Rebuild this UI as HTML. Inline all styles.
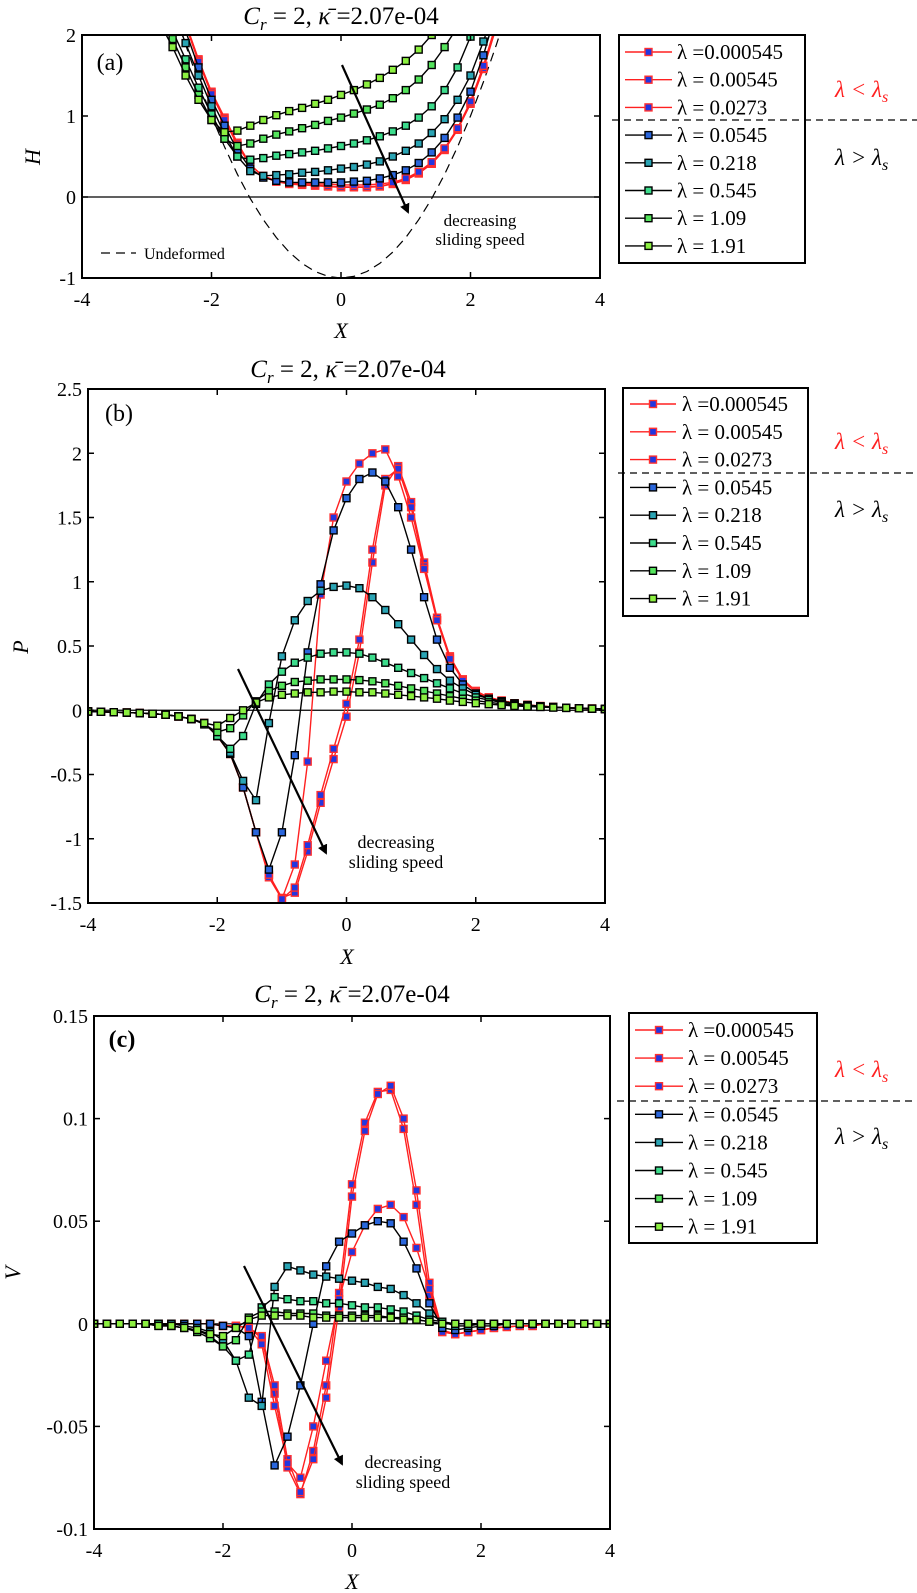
<!DOCTYPE html>
<html><head><meta charset="utf-8">
<style>
html,body{margin:0;padding:0;background:#fff;}
svg{display:block;font-family:"Liberation Serif",serif;}
</style></head>
<body>
<svg id="fig" width="917" height="1593" viewBox="0 0 917 1593" xmlns="http://www.w3.org/2000/svg"></svg>
<script>
// ---------- data ----------
const lambdaLabels = ["λ =0.000545","λ = 0.00545","λ = 0.0273","λ = 0.0545","λ = 0.218","λ = 0.545","λ = 1.09","λ = 1.91"];
const xTicks = [-4,-2,0,2,4];
const xTickLabels = ["-4","-2","0","2","4"];
const aYTicks = [-1,0,1,2];
const aYTickLabels = ["-1","0","1","2"];
const bYTicks = [-1.5,-1,-0.5,0,0.5,1,1.5,2,2.5];
const bYTickLabels = ["-1.5","-1","-0.5","0","0.5","1","1.5","2","2.5"];
const cYTicks = [-0.1,-0.05,0,0.05,0.1,0.15];
const cYTickLabels = ["-0.1","-0.05","0","0.05","0.1","0.15"];

const aX = [-3.0,-2.8,-2.6,-2.4,-2.2,-2.0,-1.8,-1.6,-1.4,-1.2,-1.0,-0.8,-0.6,-0.4,-0.2,0,0.2,0.4,0.6,0.8,1.0,1.2,1.4,1.6,1.8,2.0,2.2,2.4,2.6,2.8,3.0];
const aUndeformed = [3.5,2.92,2.38,1.88,1.42,1.0,0.62,0.28,-0.02,-0.28,-0.5,-0.68,-0.82,-0.92,-0.98,-1.0,-0.98,-0.92,-0.82,-0.68,-0.5,-0.28,-0.02,0.28,0.62,1.0,1.42,1.88,2.38,2.92,3.5];
const aH0 = [4,3.5,2.9,2.15,1.7,1.3,0.98,0.67,0.4,0.25,0.19,0.16,0.15,0.14,0.13,0.12,0.12,0.12,0.13,0.16,0.21,0.29,0.41,0.58,0.83,1.15,1.58,2.1,2.7,3.3,4];
const aH1 = [4,3.5,2.9,2.14,1.69,1.29,0.97,0.66,0.4,0.25,0.19,0.165,0.155,0.145,0.135,0.125,0.125,0.125,0.135,0.165,0.215,0.295,0.415,0.59,0.84,1.16,1.59,2.11,2.7,3.3,4];
const aH2 = [4,3.5,2.9,2.12,1.67,1.27,0.95,0.64,0.39,0.26,0.2,0.18,0.17,0.16,0.16,0.15,0.15,0.15,0.16,0.18,0.23,0.31,0.43,0.6,0.85,1.18,1.62,2.15,2.75,3.3,4];
const aH3 = [4,3.4,2.8,2.05,1.6,1.2,0.88,0.58,0.35,0.24,0.2,0.18,0.18,0.18,0.18,0.18,0.19,0.2,0.23,0.27,0.33,0.42,0.55,0.73,0.98,1.3,1.75,2.3,2.9,3.5,4];
const aH4 = [3.6,3.0,2.3,1.9,1.5,1.12,0.78,0.5,0.32,0.26,0.27,0.28,0.3,0.31,0.33,0.35,0.37,0.4,0.44,0.5,0.57,0.66,0.79,0.96,1.2,1.5,1.92,2.4,3.0,3.6,4];
const aH5 = [3.2,2.6,2.05,1.7,1.35,1.02,0.72,0.5,0.46,0.48,0.51,0.53,0.55,0.57,0.6,0.63,0.66,0.7,0.75,0.81,0.88,0.98,1.12,1.32,1.6,1.98,2.4,2.9,3.4,4,4.5];
const aH6 = [2.7,2.3,1.95,1.6,1.26,0.95,0.72,0.63,0.66,0.72,0.77,0.81,0.85,0.89,0.94,0.98,1.03,1.08,1.14,1.22,1.32,1.45,1.63,1.85,2.1,2.4,2.8,3.2,3.6,4,4.5];
const aH7 = [2.5,2.15,1.85,1.5,1.2,0.95,0.8,0.82,0.88,0.95,1.01,1.06,1.1,1.15,1.2,1.26,1.32,1.39,1.47,1.57,1.68,1.82,2.0,2.2,2.45,2.7,3.0,3.3,3.6,4,4.5];

const bcX = [-4,-3.8,-3.6,-3.4,-3.2,-3.0,-2.8,-2.6,-2.4,-2.2,-2.0,-1.8,-1.6,-1.4,-1.2,-1.0,-0.8,-0.6,-0.4,-0.2,0,0.2,0.4,0.6,0.8,1.0,1.2,1.4,1.6,1.8,2.0,2.2,2.4,2.6,2.8,3.0,3.2,3.4,3.6,3.8,4.0];

const bP0 = [-0.01,-0.012,-0.015,-0.018,-0.022,-0.027,-0.035,-0.048,-0.068,-0.1,-0.2,-0.34,-0.6,-0.95,-1.28,-1.46,-1.42,-1.1,-0.72,-0.38,-0.05,0.45,1.15,1.75,1.9,1.62,1.15,0.72,0.42,0.24,0.15,0.1,0.075,0.055,0.042,0.032,0.025,0.02,0.016,0.013,0.01];
const bP1 = [-0.01,-0.012,-0.015,-0.018,-0.022,-0.027,-0.035,-0.048,-0.068,-0.1,-0.2,-0.34,-0.6,-0.95,-1.3,-1.47,-1.38,-1.05,-0.66,-0.3,0.05,0.55,1.25,1.8,1.88,1.58,1.12,0.7,0.41,0.24,0.15,0.1,0.075,0.055,0.042,0.032,0.025,0.02,0.016,0.013,0.01];
const bP2 = [-0.01,-0.012,-0.015,-0.018,-0.022,-0.027,-0.035,-0.048,-0.068,-0.1,-0.2,-0.34,-0.6,-0.95,-1.28,-1.47,-1.2,-0.4,0.9,1.5,1.78,1.92,2.0,2.03,1.82,1.5,1.1,0.7,0.4,0.23,0.14,0.1,0.075,0.055,0.042,0.032,0.025,0.02,0.016,0.013,0.01];
const bP3 = [-0.01,-0.012,-0.015,-0.018,-0.022,-0.027,-0.035,-0.048,-0.068,-0.1,-0.2,-0.34,-0.6,-0.95,-1.24,-0.95,-0.35,0.45,0.98,1.4,1.65,1.8,1.85,1.78,1.58,1.25,0.88,0.55,0.33,0.2,0.13,0.09,0.07,0.053,0.04,0.031,0.025,0.02,0.016,0.013,0.01];
const bP4 = [-0.01,-0.012,-0.015,-0.018,-0.022,-0.027,-0.035,-0.048,-0.068,-0.1,-0.2,-0.33,-0.55,-0.7,-0.1,0.42,0.7,0.85,0.93,0.96,0.97,0.95,0.88,0.78,0.67,0.55,0.43,0.32,0.23,0.17,0.12,0.09,0.07,0.053,0.04,0.031,0.025,0.02,0.016,0.013,0.01];
const bP5 = [-0.01,-0.012,-0.015,-0.018,-0.022,-0.027,-0.035,-0.048,-0.068,-0.1,-0.2,-0.3,-0.2,0.05,0.2,0.3,0.37,0.41,0.44,0.45,0.45,0.44,0.41,0.37,0.33,0.29,0.25,0.21,0.17,0.13,0.1,0.08,0.062,0.048,0.038,0.03,0.024,0.019,0.015,0.012,0.01];
const bP6 = [-0.01,-0.012,-0.015,-0.018,-0.022,-0.027,-0.035,-0.048,-0.068,-0.11,-0.17,-0.14,-0.04,0.07,0.15,0.19,0.22,0.23,0.24,0.24,0.24,0.235,0.225,0.21,0.19,0.17,0.15,0.13,0.11,0.09,0.075,0.062,0.05,0.04,0.033,0.027,0.022,0.018,0.015,0.012,0.01];
const bP7 = [-0.01,-0.012,-0.015,-0.018,-0.022,-0.027,-0.035,-0.048,-0.068,-0.1,-0.12,-0.06,0.0,0.06,0.1,0.12,0.13,0.14,0.14,0.145,0.145,0.14,0.14,0.13,0.12,0.11,0.1,0.09,0.075,0.065,0.055,0.047,0.04,0.034,0.029,0.025,0.021,0.018,0.015,0.012,0.01];

const cV0 = [0,0,0,0,0,0,0,0,0,0,-0.001,-0.001,-0.002,-0.007,-0.034,-0.07,-0.083,-0.062,-0.03,0.015,0.068,0.098,0.113,0.114,0.095,0.058,0.014,-0.004,-0.005,-0.004,-0.003,-0.002,-0.0015,-0.001,-0.001,0,0,0,0,0,0];
const cV1 = [0,0,0,0,0,0,0,0,0,0,-0.001,-0.001,-0.002,-0.006,-0.03,-0.066,-0.082,-0.066,-0.036,0.008,0.062,0.094,0.112,0.116,0.1,0.065,0.02,-0.003,-0.005,-0.004,-0.003,-0.002,-0.0015,-0.001,-0.001,0,0,0,0,0,0];
const cV2 = [0,0,0,0,0,0,0,0,0,0,-0.001,-0.001,-0.002,-0.01,-0.04,-0.068,-0.075,-0.05,-0.018,0.012,0.035,0.048,0.056,0.058,0.052,0.037,0.017,-0.004,-0.005,-0.004,-0.003,-0.002,-0.0015,-0.001,-0.001,0,0,0,0,0,0];
const cV3 = [0,0,0,0,0,0,0,0,0,0,-0.001,-0.002,-0.006,-0.038,-0.069,-0.055,-0.03,0.0,0.028,0.04,0.044,0.048,0.05,0.049,0.04,0.027,0.01,-0.002,-0.003,-0.002,-0.001,-0.001,0,0,0,0,0,0,0,0,0];
const cV4 = [0,0,0,0,0,0,0,-0.001,-0.002,-0.004,-0.008,-0.018,-0.036,-0.04,0.018,0.028,0.026,0.024,0.023,0.022,0.021,0.02,0.018,0.017,0.014,0.01,0.005,0.001,-0.001,-0.001,0,0,0,0,0,0,0,0,0,0,0];
const cV5 = [0,0,0,0,0,0,-0.001,-0.002,-0.003,-0.006,-0.011,-0.018,-0.015,0.008,0.013,0.012,0.011,0.011,0.01,0.01,0.009,0.008,0.008,0.007,0.006,0.004,0.002,0.001,0,0,0,0,0,0,0,0,0,0,0,0,0];
const cV6 = [0,0,0,0,0,-0.001,-0.001,-0.002,-0.004,-0.007,-0.011,-0.008,0.003,0.006,0.006,0.005,0.005,0.005,0.004,0.004,0.004,0.004,0.004,0.003,0.003,0.002,0.001,0,0,0,0,0,0,0,0,0,0,0,0,0,0];
const cV7 = [0,0,0,0,0,-0.001,-0.001,-0.002,-0.003,-0.005,-0.006,-0.002,0.002,0.004,0.004,0.004,0.004,0.003,0.003,0.003,0.003,0.003,0.003,0.003,0.002,0.002,0.001,0,0,0,0,0,0,0,0,0,0,0,0,0,0];

// ---------- styles ----------
const lineCol = ["#ff2020","#ff2020","#ff2020","#000","#000","#000","#000","#000"];
const edgeCol = ["#ff3030","#ff3030","#ff3030","#000","#000","#000","#000","#000"];
const fillCol = ["#2236e0","#2236e0","#2236e0","#2a66dc","#2aa4b4","#3cdc8c","#54e45c","#8cf040"];

const NS = "http://www.w3.org/2000/svg";
const svg = document.getElementById("fig");
function mk(tag, attrs, parent){
  const e = document.createElementNS(NS, tag);
  for (const k in attrs) e.setAttribute(k, attrs[k]);
  (parent||svg).appendChild(e);
  return e;
}

function drawPanel(P){
  const g = mk("g", {});
  
  
  const sx = x => P.l + (x - P.xmin) / (P.xmax - P.xmin) * (P.r - P.l);
  const sy = y => P.b - (y - P.ymin) / (P.ymax - P.ymin) * (P.b - P.t);
  const clipId = "clip-" + P.name;
  const cp = mk("clipPath", {id: clipId}, g);
  mk("rect", {x:P.l, y:P.t, width:P.r-P.l, height:P.b-P.t}, cp);
  const zl = mk("line", {x1:P.l, x2:P.r, y1:sy(0), y2:sy(0), stroke:"#000", "stroke-width":1.2}, g);
  
  
  const dg = mk("g", {"clip-path":"url(#"+clipId+")"}, g);
  if (P.undeformed){
    let d = "";
    P.xs.forEach((x,i)=>{ d += (i?"L":"M") + sx(x).toFixed(1) + "," + sy(P.undeformed[i]).toFixed(1); });
    const u = mk("path", {d:d, fill:"none", stroke:"#000", "stroke-width":1.2, "stroke-dasharray":"9,6"}, dg);
    
    
  }
  for (let s = 0; s < P.series.length; s++){
    const vals = P.series[s];
    const sg = mk("g", {}, dg);
    
    
    let d = "";
    P.xs.forEach((x,i)=>{ d += (i?"L":"M") + sx(x).toFixed(1) + "," + sy(vals[i]).toFixed(1); });
    mk("path", {d:d, fill:"none", stroke:lineCol[s], "stroke-width":1.4}, sg);
    P.xs.forEach((x,i)=>{
      const m = mk("rect", {x:(sx(x)-3.5).toFixed(1), y:(sy(vals[i])-3.5).toFixed(1), width:7, height:7, fill:fillCol[s], stroke:edgeCol[s], "stroke-width":1.4}, sg);
      
      
    });
  }
  const box = mk("rect", {x:P.l, y:P.t, width:P.r-P.l, height:P.b-P.t, fill:"none", stroke:"#000", "stroke-width":2}, g);
  
  
  xTicks.forEach((v,i)=>{
    const x = sx(v);
    mk("line", {x1:x, x2:x, y1:P.b, y2:P.b-6, stroke:"#000", "stroke-width":1.5}, g);
    mk("line", {x1:x, x2:x, y1:P.t, y2:P.t+6, stroke:"#000", "stroke-width":1.5}, g);
    const t = mk("text", {x:x, y:P.b+28, "font-size":20, "text-anchor":"middle"}, g);
    t.textContent = xTickLabels[i];
    
    
  });
  P.yTicks.forEach((v,i)=>{
    const y = sy(v);
    mk("line", {x1:P.l, x2:P.l+6, y1:y, y2:y, stroke:"#000", "stroke-width":1.5}, g);
    mk("line", {x1:P.r, x2:P.r-6, y1:y, y2:y, stroke:"#000", "stroke-width":1.5}, g);
    const t = mk("text", {x:P.l-6, y:y+7, "font-size":20, "text-anchor":"end"}, g);
    t.textContent = P.yTickLabels[i];
    
    
  });
}

drawPanel({name:"panel-a", l:82, r:600, t:35, b:278, xmin:-4, xmax:4, ymin:-1, ymax:2, xs:aX,
  series:[aH0,aH1,aH2,aH3,aH4,aH5,aH6,aH7], undeformed:aUndeformed, yTicks:aYTicks, yTickLabels:aYTickLabels});
drawPanel({name:"panel-b", l:88, r:605, t:389, b:903, xmin:-4, xmax:4, ymin:-1.5, ymax:2.5, xs:bcX,
  series:[bP0,bP1,bP2,bP3,bP4,bP5,bP6,bP7], yTicks:bYTicks, yTickLabels:bYTickLabels});
drawPanel({name:"panel-c", l:94, r:610, t:1016, b:1529, xmin:-4, xmax:4, ymin:-0.1, ymax:0.15, xs:bcX,
  series:[cV0,cV1,cV2,cV3,cV4,cV5,cV6,cV7], yTicks:cYTicks, yTickLabels:cYTickLabels});

function drawLegend(name, L){
  const g = mk("g", {});
  
  
  mk("rect", {x:L.l, y:L.t, width:L.r-L.l, height:L.b-L.t, fill:"#fff", stroke:"#000", "stroke-width":2}, g);
  lambdaLabels.forEach((lab,i)=>{
    const y = L.row0 + i*L.dy;
    const e = mk("g", {}, g);
    
    
    mk("line", {x1:L.lx1, x2:L.lx2, y1:y, y2:y, stroke:lineCol[i], "stroke-width":1.4}, e);
    const mx = (L.lx1+L.lx2)/2;
    mk("rect", {x:mx-3.5, y:y-3.5, width:7, height:7, fill:fillCol[i], stroke:edgeCol[i], "stroke-width":1.4}, e);
    const t = mk("text", {x:L.tx, y:y+7, "font-size":21}, e);
    t.textContent = lab;
  });
  const dl = mk("line", {x1:L.dx1, x2:917, y1:L.dashY, y2:L.dashY, stroke:"#000", "stroke-width":1.2, "stroke-dasharray":"7,5"}, svg);
  
  
  const r = mk("text", {x:835, y:L.redY, "font-size":23, "font-style":"italic", fill:"#ff2020"}, svg);
  r.innerHTML = 'λ &lt; λ<tspan font-size="16" dy="5">s</tspan>';
  
  
  const b = mk("text", {x:835, y:L.blkY, "font-size":23, "font-style":"italic", fill:"#000"}, svg);
  b.innerHTML = 'λ &gt; λ<tspan font-size="16" dy="5">s</tspan>';
  
  
}
drawLegend("legend-a", {l:619,r:805,t:35,b:263,row0:52,dy:27.7,lx1:625,lx2:672,tx:677,dashY:120,dx1:612,redY:97,blkY:165});
drawLegend("legend-b", {l:623,r:808,t:388,b:616,row0:404,dy:27.8,lx1:630,lx2:676,tx:682,dashY:473,dx1:618,redY:449,blkY:517});
drawLegend("legend-c", {l:629,r:817,t:1013,b:1243,row0:1030,dy:28.1,lx1:635,lx2:683,tx:688,dashY:1101,dx1:617,redY:1077,blkY:1144});

function title(y, cx, name){
  const t = mk("text", {x:cx, y:y, "font-size":25, "text-anchor":"middle"});
  t.innerHTML = '<tspan font-style="italic">C</tspan><tspan font-style="italic" font-size="17" dy="6">r</tspan><tspan dy="-6"> = 2,  </tspan><tspan font-style="italic">κ&#772;</tspan><tspan> =2.07e-04</tspan>';
  
  
}
title(24, 341, "title-a");
title(377, 348, "title-b");
title(1002, 352, "title-c");

function label(txt, x, y, rot, name, size, style, weight){
  const t = mk("text", {x:x, y:y, "font-size":size||22, "font-style":style||"italic", "font-weight":weight||"normal", "text-anchor":"middle"});
  if (rot) t.setAttribute("transform", "rotate(-90 "+x+" "+y+")");
  t.textContent = txt;
  
  
}
label("X", 341, 338, false, "x-axis-title-a");
label("X", 347, 964, false, "x-axis-title-b");
label("X", 352, 1589, false, "x-axis-title-c");
label("H", 40, 157, true, "y-axis-title-a");
label("P", 28, 647, true, "y-axis-title-b");
label("V", 20, 1273, true, "y-axis-title-c");
label("(a)", 110, 70, false, "panel-label-a", 24, "normal");
label("(b)", 119, 421, false, "panel-label-b", 24, "normal");
label("(c)", 122, 1047, false, "panel-label-c", 24, "normal", "bold");

const defs = mk("defs", {});
const mkr = mk("marker", {id:"ah", markerWidth:10, markerHeight:10, refX:8, refY:5, orient:"auto", markerUnits:"userSpaceOnUse"}, defs);
mk("path", {d:"M0,0 L10,5 L0,10 Z", fill:"#000"}, mkr);
function arrow(x1,y1,x2,y2,name){
  const a = mk("line", {x1:x1,y1:y1,x2:x2,y2:y2, stroke:"#000","stroke-width":2.2,"marker-end":"url(#ah)"});
  
  
}
arrow(342,65,408,212,"arrow-a");
arrow(238,669,326,853,"arrow-b");
arrow(244,1266,342,1464,"arrow-c");
function note(lines, x, y, name, size){
  const t = mk("text", {x:x, y:y, "font-size":size, "text-anchor":"middle"});
  t.innerHTML = '<tspan x="'+x+'">'+lines[0]+'</tspan><tspan x="'+x+'" dy="'+(size*1.12)+'">'+lines[1]+'</tspan>';
  
  
}
note(["decreasing","sliding speed"], 480, 226, "annotation-a", 17);
note(["decreasing","sliding speed"], 396, 848, "annotation-b", 18);
note(["decreasing","sliding speed"], 403, 1468, "annotation-c", 18);
const ul = mk("line", {x1:101,x2:136,y1:253,y2:253,stroke:"#000","stroke-width":1.2,"stroke-dasharray":"9,6"});


const ut = mk("text", {x:144, y:259, "font-size":16});
ut.textContent = "Undeformed";


</script>
</body></html>
